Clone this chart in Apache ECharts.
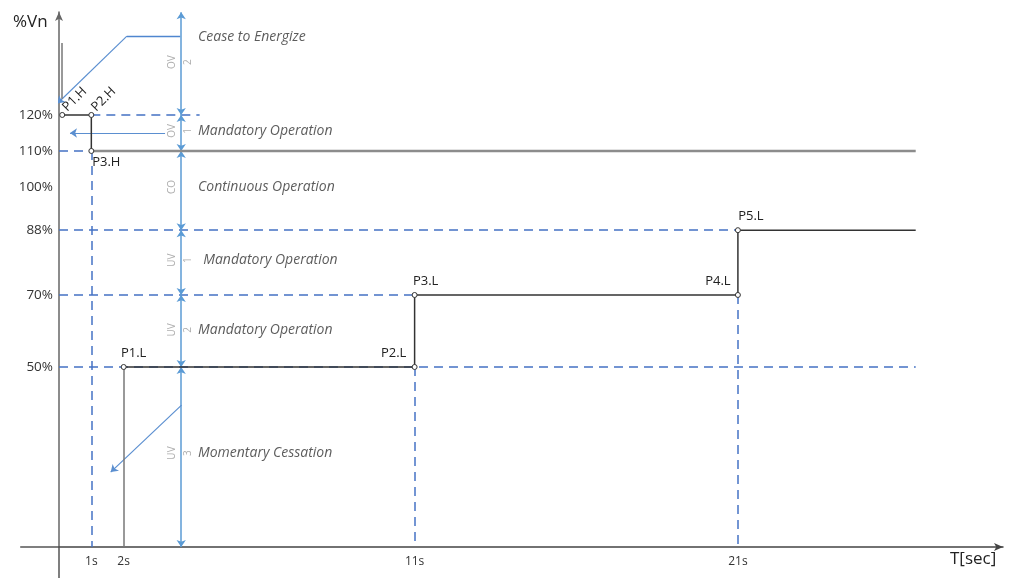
<!DOCTYPE html>
<html>
<head>
<meta charset="utf-8">
<script src="https://cdn.jsdelivr.net/npm/echarts@6/dist/echarts.min.js"></script>
<style>
  html, body { margin: 0; padding: 0; background: #fff; }
  #chart { width: 1010px; height: 580px; }
</style>
</head>
<body>
<div id="chart"></div>
<script>
// tick labels
var yTicks = [50, 70, 88, 100, 110, 120];
var xTicks = [1, 2, 11, 21];

// ride-through curves (seconds, %Vn)
var highCurve = [[0.1, 120], [1, 120], [1, 110]];
var highNames = ['P1.H', 'P2.H', 'P3.H'];
var lowCurve = [[2, 50], [11, 50], [11, 70], [21, 70], [21, 88], [26.5, 88]];
var lowNames = ['P1.L', 'P2.L', 'P3.L', 'P4.L', 'P5.L', ''];
var ovTrip = [[1, 110], [26.5, 110]];

// axis overshoot past the origin
var axisTails = [
    [[-1.2, 0], [0, 0]],
    [[0, 0], [0, -8.6]]
];

// region boundaries on the marker line
var zoneX = 3.78;
var zoneBounds = [148.5, 120, 110, 88, 70, 50, 0];
var zoneNames = ['Cease to Energize', 'Mandatory Operation', 'Continuous Operation',
                 'Mandatory Operation', 'Mandatory Operation', 'Momentary Cessation'];
var zoneNameY = [141.7, 115.6, 100, 79.7, 60.3, 26.1];
var zoneNameX = [4.3, 4.3, 4.3, 4.46, 4.3, 4.3];
var zoneCodes = ['OV', 'OV', 'CO', 'UV', 'UV', 'UV'];
var zoneIdx = ['2', '1', '', '1', '2', '3'];
var zoneCodeY = [134.7, 115.6, 100, 79.7, 60.3, 26.1];

// dashed guide lines
var guides = [
    [[1, 120], [4.35, 120]],
    [[0, 110], [1, 110]],
    [[0, 88], [21, 88]],
    [[0, 70], [11, 70]],
    [[0, 50], [26.5, 50]],
    [[1, 110], [1, 0]],
    [[11, 50], [11, 0]],
    [[21, 70], [21, 0]]
];

// pointer arrows
var ceaseBar = [[3.75, 141.9], [2.1, 141.9]];
var ceaseSlope = [[2.1, 141.9], [-0.05, 123.2]];
var ovPointer = [[3.28, 115], [0.34, 115]];
var mcPointer = [[3.79, 39.4], [1.6, 20.8]];
var grayMarks = [
    [[0.1, 140], [0.1, 124.5]],
    [[2, 50], [2, 0]]
];

var pointLabel = {
    'P1.H': { position: 'right', rotate: 45, offset: [0, -8] },
    'P2.H': { position: 'right', rotate: 45, offset: [0, -8] },
    'P3.H': { position: 'bottom', offset: [15, -3] },
    'P1.L': { position: 'top', offset: [10, 1] },
    'P2.L': { position: 'top', offset: [-21, 1] },
    'P3.L': { position: 'top', offset: [11, 1] },
    'P4.L': { position: 'top', offset: [-20, 1] },
    'P5.L': { position: 'top', offset: [13, 1] }
};

function curveData(pts, names) {
    return pts.map(function (p, i) {
        var n = names[i];
        if (!n) return { value: p, symbol: 'none' };
        var cfg = pointLabel[n];
        return {
            value: p,
            label: {
                show: true, formatter: n, position: cfg.position,
                rotate: cfg.rotate || 0, offset: cfg.offset,
                color: '#222', fontSize: 13, fontFamily: 'Open Sans'
            }
        };
    });
}

var zoneSegs = [];
for (var i = 0; i < zoneBounds.length - 1; i++) {
    zoneSegs.push({ coords: [[zoneX, zoneBounds[i]], [zoneX, zoneBounds[i + 1]]] });
}

var chart = echarts.init(document.getElementById('chart'));

chart.setOption({
    animation: false,
    grid: { left: 59, right: 7, top: 12, bottom: 33, containLabel: false, outerBoundsMode: 'none' },
    xAxis: {
        type: 'value', min: 0, max: 29.2,
        splitLine: { show: false },
        axisTick: { show: false },
        axisLine: { symbol: ['none', 'arrow'], symbolSize: [6, 9],
                    lineStyle: { color: '#444', width: 1.5 } },
        axisLabel: { customValues: xTicks, formatter: function (v) { return v + 's'; },
                     margin: 9, color: '#333', fontSize: 12, fontFamily: 'Open Sans' }
    },
    yAxis: {
        type: 'value', min: 0, max: 148.6,
        splitLine: { show: false },
        axisTick: { show: false },
        axisLine: { symbol: ['none', 'arrow'], symbolSize: [6, 9],
                    lineStyle: { color: '#666', width: 1.5 } },
        axisLabel: { customValues: yTicks, formatter: function (v) { return v + '%'; },
                     margin: 6, color: '#333', fontSize: 13.5, fontFamily: 'Open Sans' }
    },
    graphic: [
        { type: 'text', left: 13, top: 14,
          style: { text: '%Vn', fontSize: 17, fill: '#222', fontFamily: 'Open Sans' } },
        { type: 'text', left: 950, top: 551,
          style: { text: 'T[sec]', fontSize: 17, fill: '#222', fontFamily: 'Open Sans' } }
    ],
    series: [
        {
            name: 'axisTails', type: 'lines', coordinateSystem: 'cartesian2d', clip: false, z: 1,
            lineStyle: { color: '#555', width: 1.5, opacity: 1 },
            symbol: 'none',
            data: axisTails.map(function (g) { return { coords: g }; })
        },
        {
            name: 'guides', type: 'lines', coordinateSystem: 'cartesian2d', z: 1,
            lineStyle: { color: '#4472C4', width: 1.5, type: [9, 6], opacity: 1 },
            symbol: 'none',
            data: guides.map(function (g) { return { coords: g }; })
        },
        {
            name: 'zones', type: 'lines', coordinateSystem: 'cartesian2d', z: 2,
            lineStyle: { color: '#5B9BD5', width: 1.5, opacity: 1 },
            symbol: ['arrow', 'arrow'], symbolSize: 7,
            data: zoneSegs
        },
        {
            name: 'pointerBar', type: 'lines', coordinateSystem: 'cartesian2d', z: 2,
            lineStyle: { color: '#4F86CF', width: 1.3, opacity: 1 },
            symbol: 'none',
            data: [{ coords: ceaseBar }]
        },
        {
            name: 'pointers', type: 'lines', coordinateSystem: 'cartesian2d', z: 2,
            lineStyle: { color: '#5B8FD0', width: 1.2, opacity: 1 },
            symbol: ['none', 'arrow'], symbolSize: 7,
            data: [{ coords: ceaseSlope }, { coords: ovPointer }, { coords: mcPointer }]
        },
        {
            name: 'gray', type: 'lines', coordinateSystem: 'cartesian2d', z: 3,
            lineStyle: { color: '#777', width: 1.5, opacity: 1 },
            symbol: 'none',
            data: grayMarks.map(function (g) { return { coords: g }; })
        },
        {
            name: 'ovTrip', type: 'line', z: 3, symbol: 'none',
            lineStyle: { color: '#8c8c8c', width: 2.5 },
            data: ovTrip
        },
        {
            name: 'high', type: 'line', z: 5,
            symbol: 'circle', symbolSize: 5,
            itemStyle: { color: '#fff', borderColor: '#333', borderWidth: 1 },
            lineStyle: { color: '#333', width: 1.5 },
            data: curveData(highCurve, highNames)
        },
        {
            name: 'low', type: 'line', z: 5,
            symbol: 'circle', symbolSize: 5,
            itemStyle: { color: '#fff', borderColor: '#333', borderWidth: 1 },
            lineStyle: { color: '#333', width: 1.5 },
            data: curveData(lowCurve, lowNames)
        },
        {
            name: 'zoneNames', type: 'scatter', symbolSize: 0, z: 6,
            label: { show: true, position: 'right', distance: 0,
                     formatter: function (p) { return zoneNames[p.dataIndex]; },
                     color: '#333', fontSize: 14, fontStyle: 'italic', fontFamily: 'Open Sans' },
            data: zoneNameX.map(function (x, i) { return [x, zoneNameY[i]]; })
        },
        {
            name: 'zoneCodes', type: 'scatter', symbolSize: 0, z: 6,
            label: { show: true, position: 'inside', rotate: 90,
                     formatter: function (p) { return zoneCodes[p.dataIndex]; },
                     color: '#999', fontSize: 10, fontFamily: 'Open Sans' },
            data: zoneCodeY.map(function (y) { return [zoneX - 0.28, y]; })
        },
        {
            name: 'zoneIdx', type: 'scatter', symbolSize: 0, z: 6,
            label: { show: true, position: 'inside', rotate: 90,
                     formatter: function (p) { return zoneIdx[p.dataIndex]; },
                     color: '#999', fontSize: 10, fontFamily: 'Open Sans' },
            data: zoneCodeY.map(function (y) { return [zoneX + 0.2, y]; })
        }
    ]
});
</script>
</body>
</html>
